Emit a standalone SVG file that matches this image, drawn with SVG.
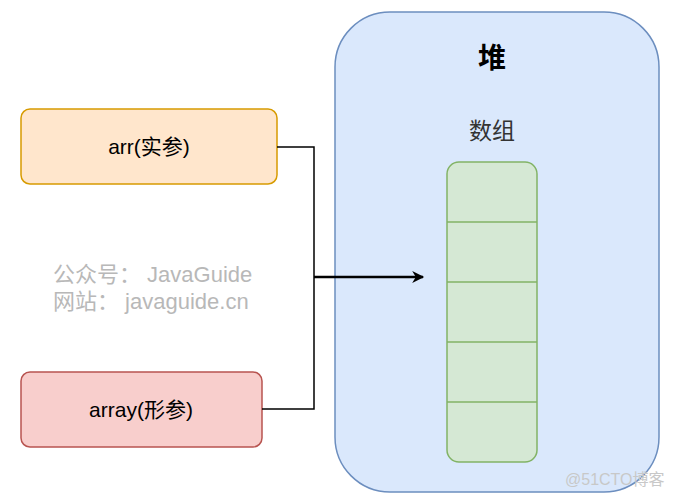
<svg xmlns="http://www.w3.org/2000/svg" width="674" height="497" viewBox="0 0 674 497">
<defs>
<style>
.t{font-family:"Liberation Sans","Noto Sans CJK SC",Arial,sans-serif;fill:#000;text-anchor:middle}
.wm{font-family:"Liberation Sans","Noto Sans CJK SC",Arial,sans-serif;fill:#b8b8b8}
.cell{fill:none;stroke:#82b366;stroke-width:1.5}
.conn{fill:none;stroke:#000;stroke-width:1.5}
.main{fill:none;stroke:#000;stroke-width:2.5}
</style>
<marker id="arr" viewBox="0 0 10 10" refX="9" refY="5" markerWidth="13" markerHeight="12" markerUnits="userSpaceOnUse" orient="auto">
<path d="M0,0 L10,5 L0,10 L3,5 Z" fill="#000"/>
</marker>
</defs>
<rect width="674" height="497" fill="#fff"/>
<g id="heap">
<rect x="335" y="12" width="324" height="480" rx="55" ry="55" fill="#dae8fc" stroke="#6c8ebf" stroke-width="1.5"/>
<text class="t" x="492" y="68" font-size="28" font-weight="bold">堆</text>
<text class="t" x="492" y="139" font-size="23" style="fill:#333">数组</text>
</g>
<g id="array-block">
<rect x="447" y="162" width="90" height="300" rx="12" ry="12" fill="#d5e8d4" stroke="#82b366" stroke-width="1.5"/>
<line class="cell" x1="447" y1="222" x2="537" y2="222"/>
<line class="cell" x1="447" y1="282" x2="537" y2="282"/>
<line class="cell" x1="447" y1="342" x2="537" y2="342"/>
<line class="cell" x1="447" y1="402" x2="537" y2="402"/>
</g>
<g id="arr-node">
<rect x="21" y="109" width="256" height="75" rx="9" ry="9" fill="#ffe6cc" stroke="#d79b00" stroke-width="1.5"/>
<text class="t" x="149" y="154" font-size="21">arr(实参)</text>
</g>
<g id="array-node">
<rect x="21" y="372" width="241" height="75" rx="9" ry="9" fill="#f8cecc" stroke="#b85450" stroke-width="1.5"/>
<text class="t" x="141" y="417" font-size="21">array(形参)</text>
</g>
<g id="connectors">
<polyline class="conn" points="277,147 314,147 314,409 262,409"/>
<line class="main" x1="314" y1="277" x2="423" y2="277" marker-end="url(#arr)"/>
</g>
<g id="watermark">
<text class="wm" x="53" y="282" font-size="22">公众号： JavaGuide</text>
<text class="wm" x="53" y="309" font-size="22">网站： javaguide.cn</text>
<text class="wm" x="565" y="485" font-size="16" style="fill:#c8c8c8">@51CTO博客</text>
</g>
</svg>
